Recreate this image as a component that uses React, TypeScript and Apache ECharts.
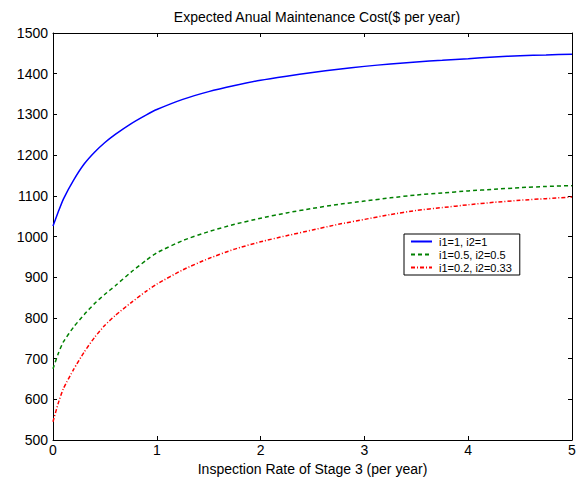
import React, { useEffect, useRef } from "react";
import * as echarts from "echarts";

const xValues = [0, 0.05, 0.1, 0.2, 0.3, 0.4, 0.5, 0.6, 0.75, 0.9, 1.0, 1.25, 1.5, 1.75, 2, 2.25, 2.5, 2.75, 3, 3.25, 3.5, 3.75, 4, 4.25, 4.5, 4.75, 5];
const blueValues = [1026, 1060, 1092, 1139, 1178, 1207, 1231, 1251, 1277, 1299, 1312, 1337, 1356, 1371, 1384, 1394, 1403, 1411, 1418, 1424, 1429, 1433, 1437, 1441, 1444, 1446, 1448];
const greenValues = [675, 712, 741, 778, 808, 835, 858, 879, 912, 942, 960, 990, 1012, 1030, 1045, 1058, 1069, 1079, 1087, 1095, 1102, 1107, 1112, 1116, 1120, 1123, 1125];
const redValues = [545, 590, 626, 674, 716, 752, 782, 806, 837, 866, 883, 918, 946, 969, 987, 1002, 1016, 1030, 1042, 1054, 1064, 1071, 1078, 1084, 1089, 1093, 1097];
const seriesNames = ["i1=1, i2=1", "i1=0.5, i2=0.5", "i1=0.2, i2=0.33"];
const titleText = "Expected Anual Maintenance Cost($ per year)";
const xAxisTitle = "Inspection Rate of Stage 3 (per year)";

const FONT = "Liberation Sans, Arial, sans-serif";

export default function App() {
  const ref = useRef<HTMLDivElement>(null);
  useEffect(() => {
    document.body.style.margin = "0";
    const chart = echarts.init(ref.current!, null, { renderer: "svg" });
    const pair = (ys: number[]) => xValues.map((x, i) => [x, ys[i]]);
    const axisCommon = {
      axisLine: { show: true, onZero: false, lineStyle: { color: "#000", width: 1 } },
      axisTick: { show: true, inside: true, length: 4, lineStyle: { color: "#000" } },
      splitLine: { show: false },
    };
    chart.setOption({
      animation: false,
      backgroundColor: "#fff",
      title: {
        text: titleText,
        left: 312,
        top: 5,
        textAlign: "center",
        textStyle: { fontFamily: FONT, fontSize: 14, fontWeight: "normal", color: "#000" },
      },
      legend: {
        orient: "vertical",
        left: 404,
        top: 234,
        backgroundColor: "#fff",
        borderColor: "#000",
        borderWidth: 1,
        borderRadius: 0,
        padding: [2, 8, 2, 6],
        itemGap: 2,
        itemWidth: 21,
        itemHeight: 12,
        itemStyle: { opacity: 0 },
        textStyle: { fontFamily: FONT, fontSize: 11, color: "#000", padding: [0, 0, 0, 2] },
        data: seriesNames,
      },
      grid: { left: 53, right: 14, top: 33, bottom: 47, containLabel: false },
      xAxis: [
        {
          type: "value",
          min: 0,
          max: 5,
          interval: 1,
          position: "bottom",
          name: xAxisTitle,
          nameLocation: "middle",
          nameGap: 20,
          nameTextStyle: { fontFamily: FONT, fontSize: 14, color: "#000" },
          axisLabel: { fontFamily: FONT, fontSize: 14, color: "#000", margin: 3 },
          ...axisCommon,
        },
        {
          type: "value",
          min: 0,
          max: 5,
          interval: 1,
          position: "top",
          axisLabel: { show: false },
          ...axisCommon,
        },
      ],
      yAxis: [
        {
          type: "value",
          min: 500,
          max: 1500,
          interval: 100,
          position: "left",
          axisLabel: { fontFamily: FONT, fontSize: 14, color: "#000", margin: 5, formatter: (v: number) => String(v) },
          ...axisCommon,
        },
        {
          type: "value",
          min: 500,
          max: 1500,
          interval: 100,
          position: "right",
          axisLabel: { show: false },
          ...axisCommon,
        },
      ],
      series: [
        {
          name: seriesNames[0],
          type: "line",
          data: pair(blueValues),
          smooth: 0.2,
          symbol: "none",
          lineStyle: { color: "#0000ff", width: 1.5, type: "solid" },
          itemStyle: { color: "#0000ff" },
        },
        {
          name: seriesNames[1],
          type: "line",
          data: pair(greenValues),
          smooth: 0.2,
          symbol: "none",
          lineStyle: { color: "#008000", width: 1.5, type: [4, 3] },
          itemStyle: { color: "#008000" },
        },
        {
          name: seriesNames[2],
          type: "line",
          data: pair(redValues),
          smooth: 0.2,
          symbol: "none",
          lineStyle: { color: "#ff0000", width: 1.5, type: [4, 2, 1, 2] },
          itemStyle: { color: "#ff0000" },
        },
      ],
    });
    return () => chart.dispose();
  }, []);
  return <div ref={ref} style={{ position: "fixed", left: 0, top: 0, width: 586, height: 487 }} />;
}
